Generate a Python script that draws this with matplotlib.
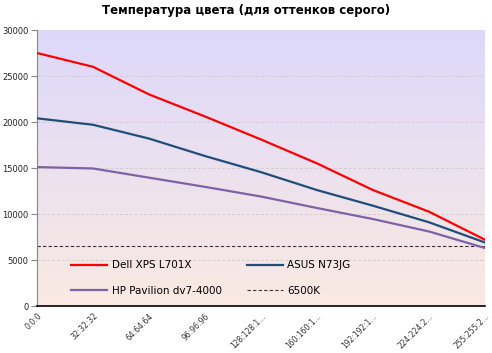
import matplotlib
matplotlib.use("Agg")
import matplotlib.pyplot as plt
import numpy as np
from matplotlib.colors import LinearSegmentedColormap

categories = ["0:0:0", "32:32:32", "64:64:64", "96:96:96", "128:128:1...",
              "160:160:1...", "192:192:1...", "224:224:2...", "255:255:2..."]
dell = [27500, 26000, 23000, 20600, 18100, 15500, 12600, 10250, 7200]
asus = [20400, 19700, 18200, 16300, 14550, 12600, 10900, 9100, 6900]
hp = [15100, 14950, 13950, 12950, 11900, 10650, 9450, 8100, 6300]
ref6500 = [6500] * len(categories)
yticks = [0, 5000, 10000, 15000, 20000, 25000, 30000]

plt.rcParams['font.family'] = ['DejaVu Sans']
fig = plt.figure(figsize=(4.92, 3.53), dpi=100)
ax = fig.add_axes([37/492, 1-306/353, (485-37)/492, (306-30)/353])

x = np.arange(len(categories))
ax.set_xlim(0, len(categories)-1)
ax.set_ylim(0, 30000)

# gradient background
cmap = LinearSegmentedColormap.from_list("bg", ["#FAEAE2", "#DDD8FB"])
grad = np.linspace(0, 1, 256).reshape(-1, 1)
ax.imshow(grad, aspect='auto', cmap=cmap, origin='lower',
          extent=[0, len(categories)-1, 0, 30000], zorder=0)

for yv in yticks[1:-1]:
    ax.axhline(yv, color="#CFCFCF", lw=0.7, ls=(0, (3, 2)), zorder=1)

l1, = ax.plot(x, dell, color="#FF0000", lw=1.6, label="Dell XPS L701X", zorder=3)
l2, = ax.plot(x, asus, color="#1F4E7A", lw=1.6, label="ASUS N73JG", zorder=3)
l3, = ax.plot(x, hp, color="#7E62A6", lw=1.6, label="HP Pavilion dv7-4000", zorder=3)
l4, = ax.plot(x, ref6500, color="#333333", lw=0.8, ls=(0, (3, 2)), label="6500K", zorder=2)

ax.set_xticks(x)
ax.set_xticklabels(categories, rotation=45, ha="right", rotation_mode="anchor",
                   fontsize=5.5, color="#333333")
ax.set_yticks(yticks)
ax.set_yticklabels([str(v) for v in yticks], fontsize=6, color="#222222")
ax.tick_params(axis='x', length=0, pad=4)
ax.tick_params(axis='y', length=4, color="#888888", width=0.8, pad=2)

ax.spines['top'].set_visible(False)
ax.spines['right'].set_visible(False)
ax.spines['left'].set_color("#888888")
ax.spines['bottom'].set_color("#000000")
ax.spines['bottom'].set_linewidth(1.2)

leg = ax.legend([l1, l3, l2, l4], [l1.get_label(), l3.get_label(), l2.get_label(), l4.get_label()],
                loc="lower left", bbox_to_anchor=(0.055, 0.003), ncol=2, frameon=False,
                fontsize=7.5, handlelength=3.5, handletextpad=0.4,
                columnspacing=2.4, labelspacing=1.5)

fig.suptitle("Температура цвета (для оттенков серого)", fontsize=8.5,
             fontweight="bold", y=0.99)

fig.savefig("out.png", dpi=100)
